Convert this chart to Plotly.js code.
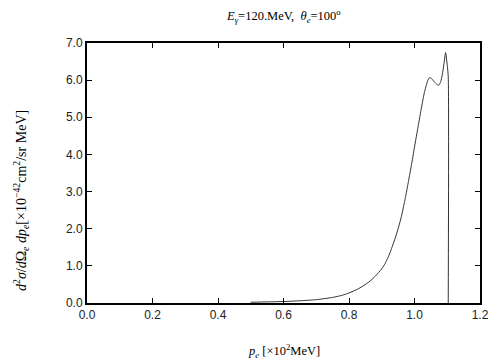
<!DOCTYPE html>
<html><head><meta charset="utf-8">
<script src="https://cdn.plot.ly/plotly-3.0.1.min.js"></script>
<style>body{margin:0;padding:0;background:#fff}#c{width:504px;height:360px}</style>
</head><body><div id="c"></div>
<script>
const pe = [0.50,0.55,0.60,0.65,0.70,0.75,0.78,0.80,0.83,0.86,0.88,0.90,0.91,0.92,0.93,0.94,0.95,0.96,0.97,0.98,0.99,1.00,1.01,1.02,1.03,1.04,1.045,1.05,1.06,1.07,1.075,1.08,1.085,1.09,1.095,1.10,1.103,1.103];
const xs = [0.02,0.03,0.04,0.06,0.09,0.15,0.21,0.27,0.39,0.56,0.72,0.92,1.06,1.24,1.47,1.72,2.00,2.33,2.74,3.20,3.68,4.20,4.70,5.20,5.66,5.98,6.06,6.06,5.96,5.87,5.87,5.96,6.15,6.45,6.74,6.40,6.10,0.0];
const xTicks = [0.0,0.2,0.4,0.6,0.8,1.0,1.2];
const yTicks = [0.0,1.0,2.0,3.0,4.0,5.0,6.0,7.0];
const titleText = '<i>E</i><sub><i>γ</i></sub>=120.MeV,  <i>θ</i><sub><i>e</i></sub>=100<sup>o</sup>';
const xTitle = '<i>p</i><sub><i>e</i></sub> [×10<sup>2</sup>MeV]';
const yTitle = '<i>d</i><sup>2</sup><i>σ</i>/<i>d</i>Ω<sub><i>e</i></sub> <i>dp</i><sub><i>e</i></sub>[×10<sup>−42</sup>cm<sup>2</sup>/sr MeV]';

const serif = 'Liberation Serif, Times New Roman, serif';
const sans = 'Liberation Sans, Arial, sans-serif';
const axisCommon = {
  ticks:'inside', ticklen:5, tickwidth:1, tickcolor:'#000',
  showline:true, linewidth:2, linecolor:'#000', mirror:'ticks',
  showgrid:false, zeroline:false, tickformat:'.1f',
  tickfont:{family:sans, size:12, color:'#222'}
};
Plotly.newPlot('c', [{
  x: pe, y: xs, type:'scatter', mode:'lines',
  line:{color:'#333', width:1, shape:'spline', smoothing:0.6}, hoverinfo:'skip'
}], {
  width:504, height:360,
  margin:{l:87, r:24, t:43, b:57},
  paper_bgcolor:'#fff', plot_bgcolor:'#fff',
  showlegend:false,
  xaxis: Object.assign({}, axisCommon, {range:[0,1.2], tickvals:xTicks}),
  yaxis: Object.assign({}, axisCommon, {range:[0,7], tickvals:yTicks}),
  annotations:[
    {text:titleText, xref:'paper', yref:'paper', x:0.5, y:1, yshift:27, showarrow:false,
     xanchor:'center', yanchor:'middle', font:{family:serif, size:12.5, color:'#000'}},
    {text:xTitle, xref:'paper', yref:'paper', x:0.5, y:0, yshift:-48, showarrow:false,
     xanchor:'center', yanchor:'middle', font:{family:serif, size:12.5, color:'#000'}},
    {text:yTitle, xref:'paper', yref:'paper', x:0, xshift:-66, y:0.5, yshift:-28, showarrow:false,
     textangle:-90, xanchor:'center', yanchor:'middle', font:{family:serif, size:14, color:'#000'}}
  ]
}, {staticPlot:true, displayModeBar:false});
</script></body></html>
